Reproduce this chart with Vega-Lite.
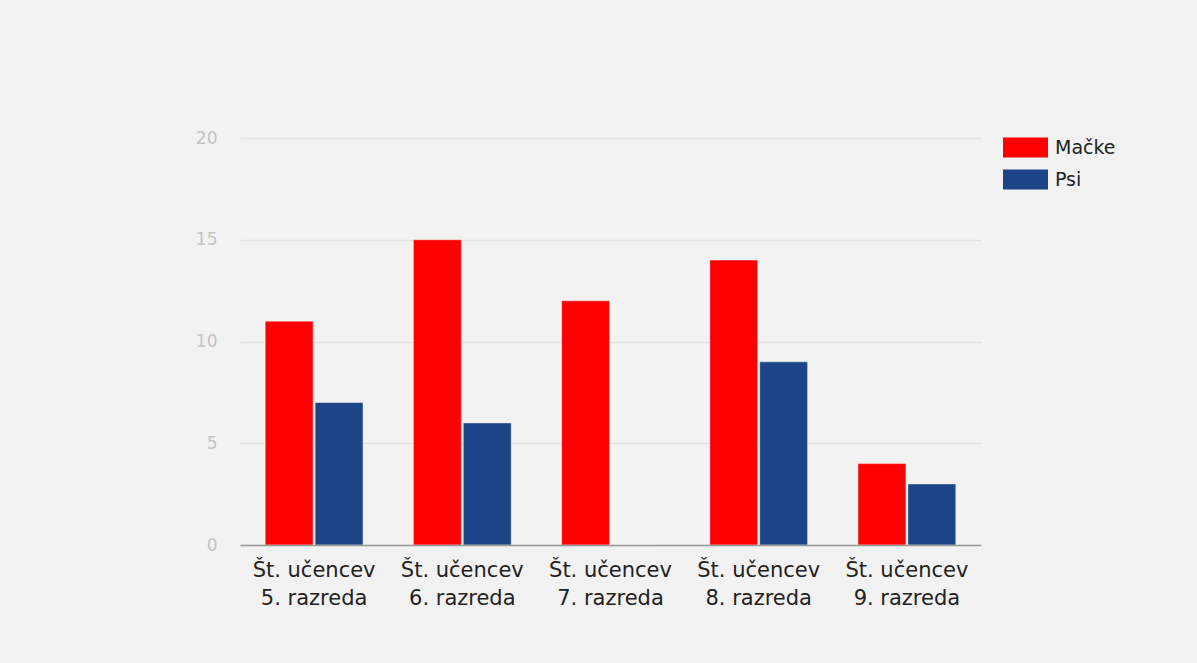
{
  "$schema": "https://vega.github.io/schema/vega-lite/v6.json",
  "autosize": "none",
  "width": 741,
  "height": 407,
  "padding": {"left": 240, "top": 138, "right": 216, "bottom": 118},
  "background": "#f2f2f2",
  "config": {
    "view": {"stroke": null, "fill": "#f2f2f2"},
    "font": "DejaVu Sans"
  },
  "data": {
    "values": [
      {"razred": "Št. učencev 5. razreda", "vrsta": "Mačke", "stevilo": 11},
      {"razred": "Št. učencev 5. razreda", "vrsta": "Psi", "stevilo": 7},
      {"razred": "Št. učencev 6. razreda", "vrsta": "Mačke", "stevilo": 15},
      {"razred": "Št. učencev 6. razreda", "vrsta": "Psi", "stevilo": 6},
      {"razred": "Št. učencev 7. razreda", "vrsta": "Mačke", "stevilo": 12},
      {"razred": "Št. učencev 7. razreda", "vrsta": "Psi", "stevilo": 0},
      {"razred": "Št. učencev 8. razreda", "vrsta": "Mačke", "stevilo": 14},
      {"razred": "Št. učencev 8. razreda", "vrsta": "Psi", "stevilo": 9},
      {"razred": "Št. učencev 9. razreda", "vrsta": "Mačke", "stevilo": 4},
      {"razred": "Št. učencev 9. razreda", "vrsta": "Psi", "stevilo": 3}
    ]
  },
  "mark": {"type": "bar", "stroke": "#ffffff", "strokeOpacity": 0.45, "strokeWidth": 1},
  "encoding": {
    "x": {
      "field": "razred",
      "type": "nominal",
      "sort": null,
      "scale": {"paddingInner": 0.34, "paddingOuter": 0.17},
      "axis": {
        "title": null,
        "labelAngle": 0,
        "labelExpr": "[slice(datum.label,0,11), slice(datum.label,12)]",
        "labelFontSize": 21,
        "labelColor": "#222222",
        "labelLineHeight": 28,
        "labelPadding": 14,
        "ticks": false,
        "domainColor": "#999999",
        "domainWidth": 1.5,
        "zindex": 1
      }
    },
    "xOffset": {
      "field": "vrsta",
      "type": "nominal",
      "scale": {"paddingInner": 0.04, "paddingOuter": 0}
    },
    "y": {
      "field": "stevilo",
      "type": "quantitative",
      "scale": {"domain": [0, 20], "nice": false},
      "axis": {
        "title": null,
        "values": [0, 5, 10, 15, 20],
        "labelFontSize": 17,
        "labelColor": "#c4c4c4",
        "labelPadding": 23,
        "ticks": false,
        "domain": false,
        "gridColor": "#e3e3e3",
        "gridWidth": 1.3
      }
    },
    "color": {
      "field": "vrsta",
      "type": "nominal",
      "scale": {"domain": ["Mačke", "Psi"], "range": ["#ff0000", "#1c4587"]},
      "legend": {
        "title": null,
        "orient": "none",
        "legendX": 774,
        "legendY": -2,
        "symbolType": "M-2,-0.888H2V0.888H-2Z",
        "symbolSize": 506,
        "symbolStrokeWidth": 0,
        "symbolOpacity": 1,
        "labelFontSize": 19,
        "labelColor": "#222222",
        "labelOffset": 18,
        "rowPadding": 10,
        "padding": 0
      }
    }
  }
}
